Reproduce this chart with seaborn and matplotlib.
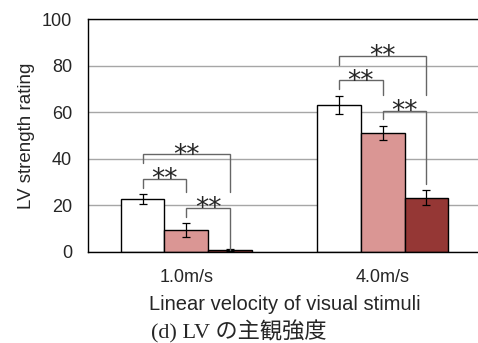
import matplotlib
matplotlib.use("Agg")
import matplotlib.pyplot as plt
import numpy as np
import pandas as pd
import seaborn as sns

# Mean ratings and standard errors per stimulus speed and condition
speeds = ["1.0m/s", "4.0m/s"]
conditions = ["C1", "C2", "C3"]
means_c1 = [22.7, 63.2]
means_c2 = [9.4, 50.9]
means_c3 = [0.8, 23.3]
err_c1 = [2.1, 3.9]
err_c2 = [2.9, 3.0]
err_c3 = [0.3, 3.3]
colors = ["#FFFFFF", "#DA9694", "#953735"]

# Significance brackets: (speed index, cond a, cond b, top, leg a end, leg b end)
brackets = [
    (0, 0, 1, 31.3, 27.3, 25.8),
    (0, 1, 2, 19.0, 15.2, 0.9),
    (0, 0, 2, 41.9, 38.1, 25.9),
    (1, 0, 1, 73.7, 69.8, 67.4),
    (1, 1, 2, 60.6, 57.0, 29.2),
    (1, 0, 2, 84.2, 80.3, 67.4),
]
sig_label = "**"

df = pd.DataFrame({
    "speed": speeds * 3,
    "cond": [c for c in conditions for _ in speeds],
    "rating": means_c1 + means_c2 + means_c3,
    "err": err_c1 + err_c2 + err_c3,
})

sns.set_style("white")
plt.rcParams["font.family"] = ["Liberation Sans", "DejaVu Sans"]

fig = plt.figure(figsize=(4.78, 3.43), dpi=100)
ax = fig.add_axes([88 / 478, 91 / 343, 393 / 478, 233 / 343])

sns.barplot(data=df, x="speed", y="rating", hue="cond", order=speeds,
            hue_order=conditions, palette=colors, saturation=1,
            width=2 / 3, gap=0, edgecolor="black", linewidth=1.0,
            errorbar=None, legend=False, ax=ax, zorder=2)

# bar centres, hue-major order as seaborn adds the patches
centers = {}
for k, cond in enumerate(conditions):
    for i, sp in enumerate(speeds):
        p = ax.patches[k * len(speeds) + i]
        centers[(i, k)] = p.get_x() + p.get_width() / 2

for k, cond in enumerate(conditions):
    sub = df[df["cond"] == cond]
    xs = [centers[(i, k)] for i in range(len(speeds))]
    ax.errorbar(xs, sub["rating"].values, yerr=sub["err"].values, fmt="none",
                ecolor="black", elinewidth=0.9, capsize=2.6, capthick=0.9,
                zorder=3)

for i, a, b, top, ya, yb in brackets:
    xa, xb = centers[(i, a)], centers[(i, b)]
    ax.plot([xa, xa, xb, xb], [ya, top, top, yb], color="#666666", lw=1.0,
            solid_joinstyle="miter", zorder=4)
    ax.annotate(sig_label, xy=((xa + xb) / 2, top), xytext=(0, -6.0),
                textcoords="offset points", ha="center", va="baseline",
                fontsize=19, fontfamily="DejaVu Sans", zorder=5)

ax.set_xlim(-0.5, 1.5)
ax.set_ylim(0, 100)
ax.set_yticks([0, 20, 40, 60, 80, 100])
ax.yaxis.grid(True, color="#A6A6A6", lw=1.0, zorder=0)
ax.set_axisbelow(True)
for side in ["left", "bottom", "top", "right"]:
    ax.spines[side].set_visible(True)
    ax.spines[side].set_color("black")
    ax.spines[side].set_linewidth(1.0)
ax.tick_params(axis="both", length=0, labelsize=13)
ax.tick_params(axis="y", pad=11.5)
ax.tick_params(axis="x", pad=12.5)
ax.set_xlabel("Linear velocity of visual stimuli", fontsize=14.5, labelpad=6)
ax.set_ylabel("LV strength rating", fontsize=13.5, labelpad=5)

fig.text(0.5, 5 / 343, "(d) LV の主観強度", ha="center", va="baseline",
         fontsize=16, family=["Liberation Serif", "Noto Sans CJK JP"])

fig.savefig("out.png", dpi=100)
